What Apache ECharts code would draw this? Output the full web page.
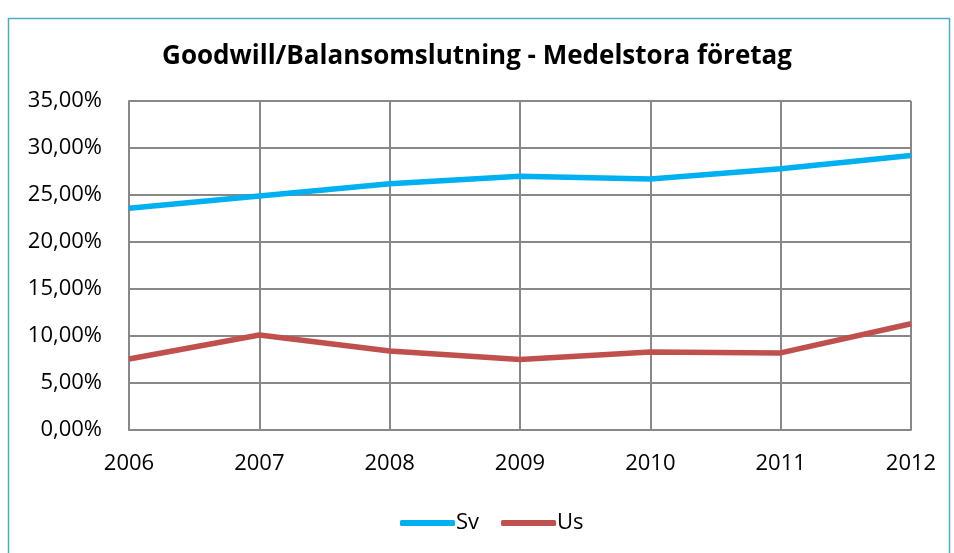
<!DOCTYPE html>
<html>
<head>
<meta charset="utf-8">
<script src="https://cdn.jsdelivr.net/npm/echarts@6/dist/echarts.min.js"></script>
<style>
  html, body { margin: 0; padding: 0; background: #fff; }
  #chart { width: 954px; height: 553px; }
</style>
</head>
<body>
<div id="chart"></div>
<script>
const years = ['2006', '2007', '2008', '2009', '2010', '2011', '2012']
const sv = [23.6, 24.9, 26.2, 27.0, 26.7, 27.8, 29.2]
const us = [7.55, 10.1, 8.4, 7.5, 8.3, 8.2, 11.3]
const yTicks = [0, 5, 10, 15, 20, 25, 30, 35]

const font = '"Open Sans", sans-serif'
const fmt = v => v.toFixed(2).replace('.', ',') + '%'

const chart = echarts.init(document.getElementById('chart'))
chart.setOption({
  animation: false,
  graphic: [{
    type: 'rect',
    shape: { x: 8.5, y: 18.5, width: 941, height: 540 },
    style: { fill: 'none', stroke: '#4BACC6', lineWidth: 1.5 },
    z: 0
  }],
  title: {
    text: 'Goodwill/Balansomslutning - Medelstora företag',
    left: 'center',
    top: 39,
    textStyle: { fontFamily: font, fontWeight: 'bold', fontSize: 26, color: '#000' }
  },
  legend: {
    bottom: 14,
    left: 395,
    itemWidth: 55,
    itemHeight: 6,
    itemGap: 22,
    icon: 'roundRect',
    textStyle: { fontFamily: font, fontSize: 22, color: '#000', padding: [0, 0, 0, -4] },
    data: ['Sv', 'Us']
  },
  grid: { left: 129, right: 43, top: 101, bottom: 123 },
  xAxis: {
    type: 'category',
    data: years,
    boundaryGap: false,
    axisLine: { lineStyle: { color: '#888', width: 2 } },
    axisTick: { show: false },
    axisLabel: { fontFamily: font, fontSize: 22, color: '#000', margin: 23 },
    splitLine: { show: true, lineStyle: { color: '#888', width: 2 } }
  },
  yAxis: {
    type: 'value',
    min: yTicks[0],
    max: yTicks[yTicks.length - 1],
    interval: 5,
    axisLine: { show: true, lineStyle: { color: '#888', width: 2 } },
    axisTick: { show: false },
    axisLabel: { fontFamily: font, fontSize: 22, color: '#000', margin: 27, formatter: fmt },
    splitLine: { lineStyle: { color: '#888', width: 2 } }
  },
  series: [
    {
      name: 'Sv',
      type: 'line',
      data: sv,
      symbol: 'none',
      lineStyle: { color: '#00B0F0', width: 5.5 },
      itemStyle: { color: '#00B0F0' }
    },
    {
      name: 'Us',
      type: 'line',
      data: us,
      symbol: 'none',
      lineStyle: { color: '#C0504D', width: 5.5 },
      itemStyle: { color: '#C0504D' }
    }
  ]
})
</script>
</body>
</html>
